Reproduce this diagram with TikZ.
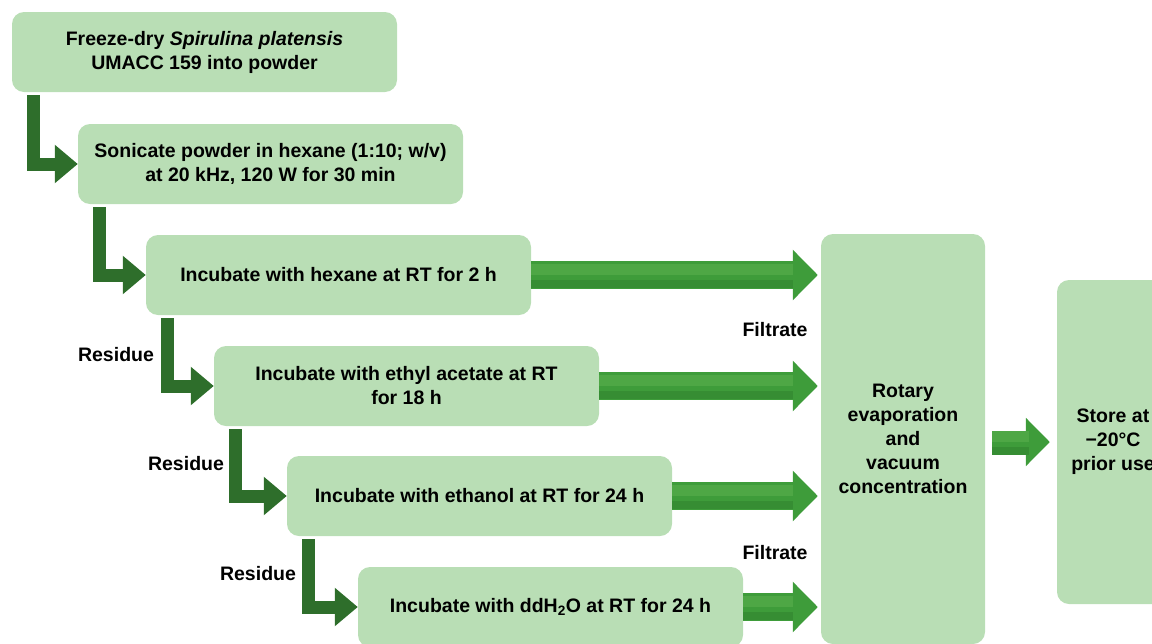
\documentclass[tikz,border=0pt]{standalone}
\usepackage{fontspec}
\setmainfont{Liberation Sans}
\usepackage{tikz}
\usetikzlibrary{arrows.meta}
\definecolor{boxgreen}{HTML}{B9DEB5}
\definecolor{resgreen}{HTML}{2E6E2B}
\definecolor{filgreen}{HTML}{3E9C3A}
\definecolor{filhigh}{HTML}{4EA745}
\definecolor{fillow}{HTML}{368D33}

\begin{document}
\begin{tikzpicture}[x=1pt,y=-1pt,box/.style={fill=boxgreen,rounded corners=12pt,align=center,minimum width=385pt,minimum height=80pt,inner sep=0pt,font=\bfseries\fontsize{19.5}{24}\selectfont},lbl/.style={font=\bfseries\fontsize{19.5}{24}\selectfont},resarr/.style={draw=resgreen,line width=13pt,line join=miter,-{Triangle[length=23pt,width=37pt]}},filarr/.style={draw=filgreen,line width=28pt,shorten >=3pt,-{Triangle[length=25pt,width=49pt]},postaction={draw=filhigh,line width=11pt,-,shorten >=28pt,transform canvas={yshift=6pt}},postaction={draw=fillow,line width=8pt,-,shorten >=28pt,transform canvas={yshift=-9pt}}}]
\clip (0,0) rectangle (1152,643);
\node[box] (b1) at (204.5,52) {Freeze-dry \textit{Spirulina platensis}\\UMACC 159 into powder};
\node[box] (b2) at (270.5,164) {Sonicate powder in hexane (1:10; w/v)\\at 20 kHz, 120 W for 30 min};
\node[box] (b3) at (338.5,275) {Incubate with hexane at RT for 2 h};
\node[box] (b4) at (406.5,386) {Incubate with ethyl acetate at RT\\for 18 h};
\node[box] (b5) at (479.5,496) {Incubate with ethanol at RT for 24 h};
\node[box] (b6) at (550.5,607) {Incubate with ddH\textsubscript{2}O at RT for 24 h};
\node[box,minimum width=164pt,minimum height=410pt] (rot) at (903,439) {Rotary\\evaporation\\and\\vacuum\\concentration};
\node[box,minimum width=112pt,minimum height=324pt] (store) at (1113,442) {Store at\\−20°C\\prior use};
\node[lbl] (f1) at (775,330) {Filtrate};
\node[lbl] (f2) at (775,553) {Filtrate};
\node[lbl] (r1) at (116,355) {Residue};
\node[lbl] (r2) at (186,464) {Residue};
\node[lbl] (r3) at (258,574) {Residue};
\draw[resarr] ([xshift=22pt,yshift=-3pt]b1.south west) |- (b2.west);
\draw[resarr] ([xshift=22pt,yshift=-3pt]b2.south west) |- (b3.west);
\draw[resarr] ([xshift=22pt,yshift=-3pt]b3.south west) |- (b4.west);
\draw[resarr] ([xshift=22pt,yshift=-3pt]b4.south west) |- (b5.west);
\draw[resarr] ([xshift=22pt,yshift=-3pt]b5.south west) |- (b6.west);
\draw[filarr] (b3.east) -- (rot.west |- b3.east);
\draw[filarr] (b4.east) -- (rot.west |- b4.east);
\draw[filarr] (b5.east) -- (rot.west |- b5.east);
\draw[filarr] (b6.east) -- (rot.west |- b6.east);
\draw[filarr,line width=23pt,shorten <=7pt,shorten >=7pt,-{Triangle[length=24pt,width=47pt]}] (rot.east |- store.west) -- (store.west);
\end{tikzpicture}
\end{document}
